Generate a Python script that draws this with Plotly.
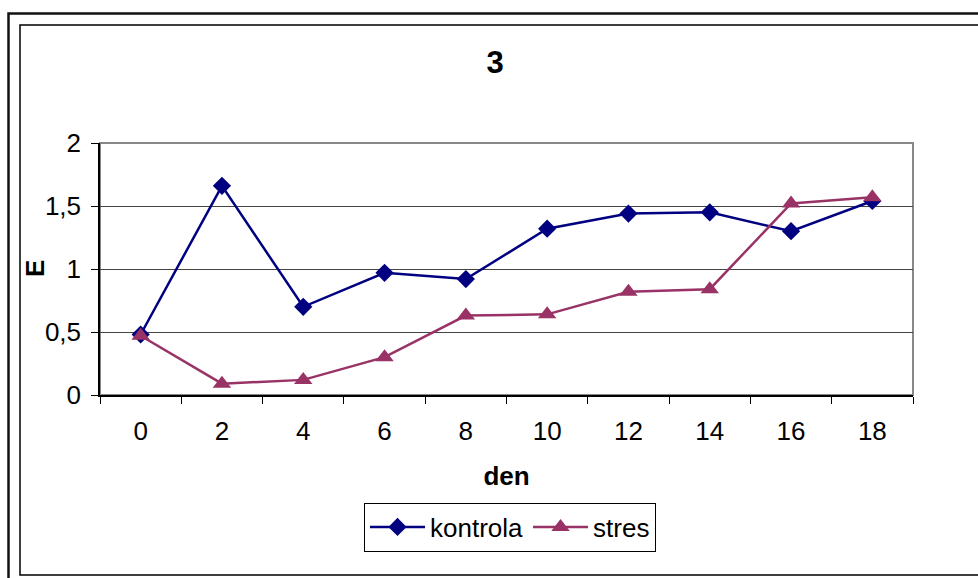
import plotly.graph_objects as go

# Days of measurement and measured E values for both groups
days = ["0", "2", "4", "6", "8", "10", "12", "14", "16", "18"]
kontrola = [0.48, 1.66, 0.70, 0.97, 0.92, 1.32, 1.44, 1.45, 1.30, 1.54]
stres = [0.47, 0.09, 0.12, 0.30, 0.63, 0.64, 0.82, 0.84, 1.52, 1.57]
y_ticks = [0, 0.5, 1, 1.5, 2]
y_tick_labels = ["0", "0,5", "1", "1,5", "2"]

W, H = 978, 578
L, R, T, B = 100, 913, 143, 395  # plot area in pixels

def px_x(p):
    return (p - L) / (R - L)

def px_y(p):
    return (B - p) / (B - T)

font = "Liberation Sans, Arial, sans-serif"
FS = 26

fig = go.Figure()
fig.add_trace(go.Scatter(
    x=days, y=kontrola, name="kontrola", mode="lines+markers",
    line=dict(color="#000080", width=2.5),
    marker=dict(symbol="diamond", size=14, color="#000080"),
))
fig.add_trace(go.Scatter(
    x=days, y=stres, name="stres", mode="lines+markers",
    line=dict(color="#993366", width=2.5),
    marker=dict(symbol="triangle-up", size=16, color="#993366"),
))

shapes = [
    # outer frame
    dict(type="rect", xref="paper", yref="paper",
         x0=px_x(8.5), x1=px_x(W + 20), y0=px_y(13.5), y1=px_y(H + 20),
         line=dict(color="#111111", width=2.5), layer="below"),
    # chart area border
    dict(type="rect", xref="paper", yref="paper",
         x0=px_x(20), x1=px_x(W + 10), y0=px_y(25), y1=px_y(575),
         line=dict(color="#000000", width=1.5), layer="below"),
    # plot area border (gray)
    dict(type="rect", xref="paper", yref="paper",
         x0=0, x1=1, y0=0, y1=1,
         line=dict(color="#888888", width=2), layer="below"),
]

fig.update_layout(
    width=W, height=H,
    margin=dict(l=L, r=W - R, t=T, b=H - B, pad=0),
    paper_bgcolor="white", plot_bgcolor="white",
    font=dict(family=font, size=FS, color="black"),
    title=dict(text="<b>3</b>", x=px_x(495), xref="paper", xanchor="center",
               y=1 - 62 / H, yanchor="middle", font=dict(size=31)),
    showlegend=True,
    legend=dict(orientation="h", x=px_x(510), xanchor="center",
                y=px_y(527), yanchor="middle",
                bordercolor="black", borderwidth=1, bgcolor="white",
                font=dict(size=FS), tracegroupgap=0, itemwidth=55),
    shapes=shapes,
    annotations=[
        dict(text="<b>E</b>", xref="paper", yref="paper",
             x=px_x(35), y=px_y(269), xanchor="center", yanchor="middle",
             textangle=-90, showarrow=False, font=dict(size=FS)),
    ],
)

fig.update_xaxes(
    type="category", range=[-0.5, 9.5], tickson="boundaries",
    ticks="outside", ticklen=7, tickcolor="black", tickwidth=1,
    showline=True, linecolor="black", linewidth=1.5,
    showgrid=False, zeroline=False,
    tickfont=dict(size=FS), ticklabelstandoff=12,
    title=dict(text="<b>den</b>", font=dict(size=FS), standoff=22),
)
fig.update_yaxes(
    range=[0, 2], tickvals=y_ticks, ticktext=y_tick_labels,
    ticks="outside", ticklen=7, tickcolor="black", tickwidth=1,
    showline=True, linecolor="black", linewidth=1.5,
    showgrid=True, gridcolor="#444444", gridwidth=1,
    zeroline=False, tickfont=dict(size=FS), ticklabelstandoff=5,
)

fig.write_html("out.html")
